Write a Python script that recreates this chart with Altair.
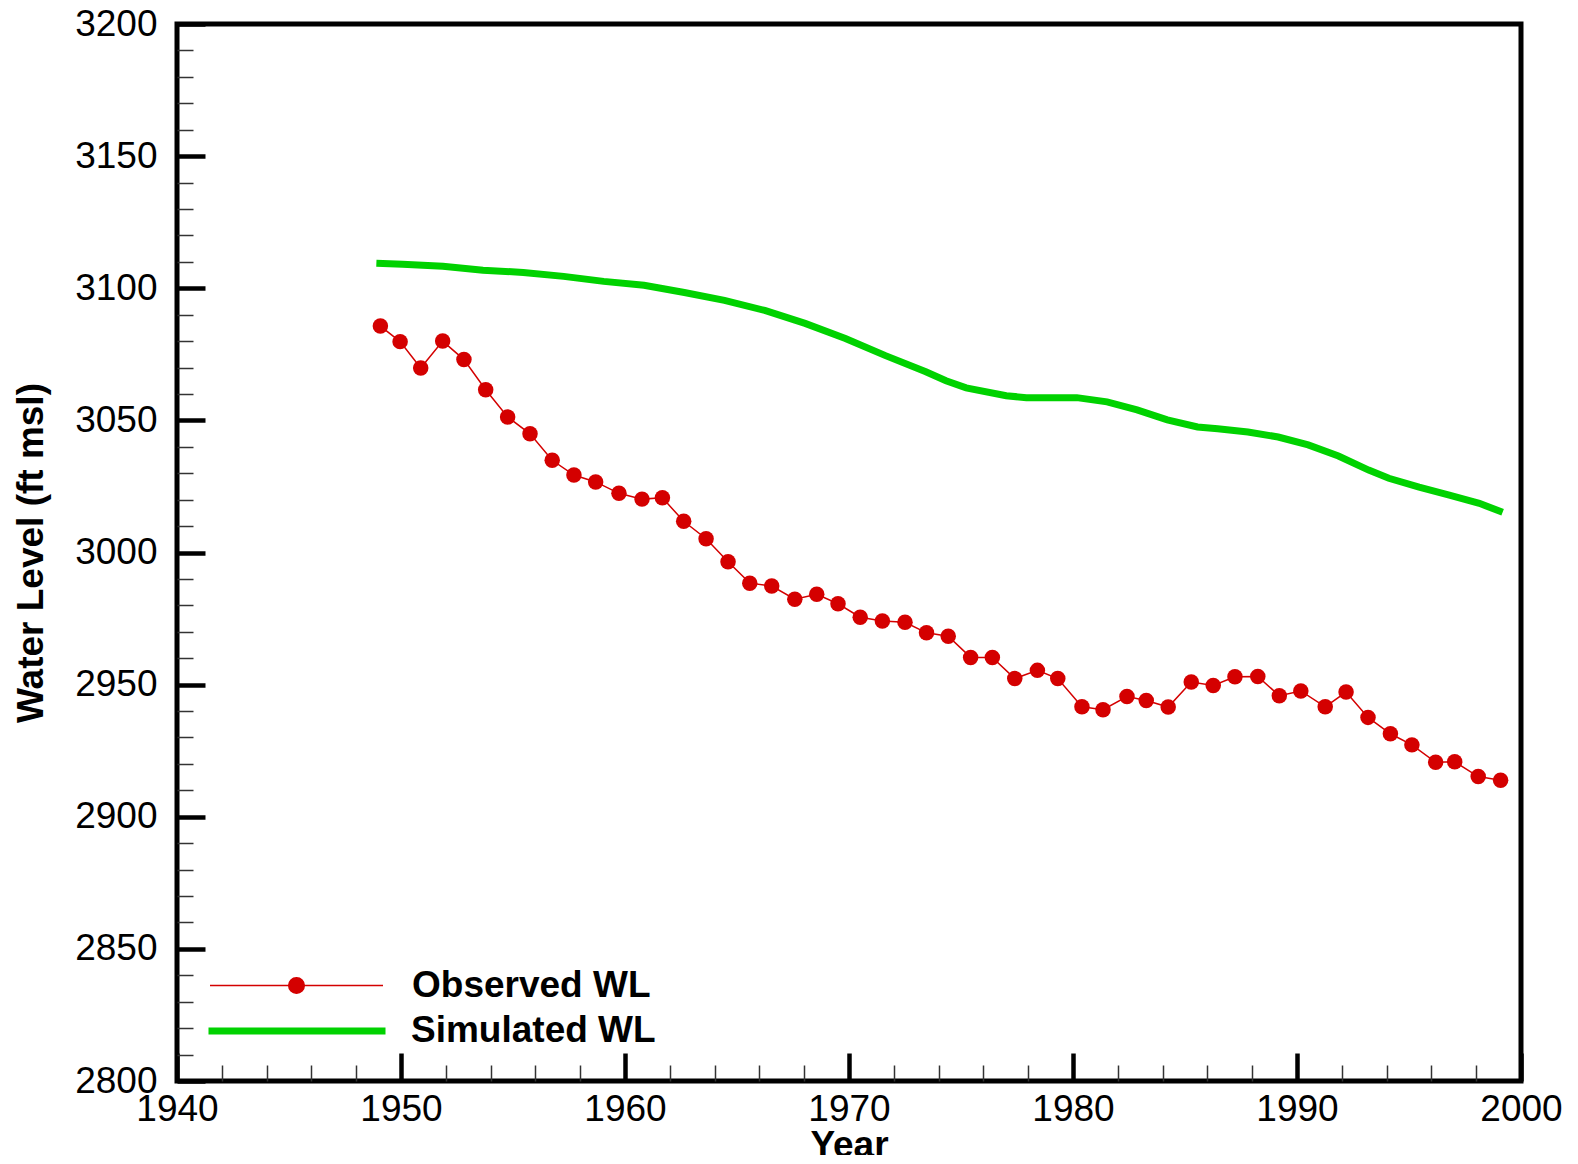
import altair as alt
import pandas as pd

# ---- data ----
obs_year = [1949.08, 1949.96, 1950.88, 1951.86, 1952.81, 1953.78, 1954.76, 1955.76, 1956.75,
            1957.72, 1958.69, 1959.73, 1960.76, 1961.67, 1962.62, 1963.62, 1964.60, 1965.57,
            1966.55, 1967.58, 1968.56, 1969.51, 1970.50, 1971.49, 1972.50, 1973.46, 1974.43,
            1975.43, 1976.40, 1977.40, 1978.41, 1979.32, 1980.40, 1981.34, 1982.41, 1983.27,
            1984.25, 1985.28, 1986.26, 1987.23, 1988.25, 1989.21, 1990.17, 1991.26, 1992.19,
            1993.17, 1994.17, 1995.13, 1996.19, 1997.04, 1998.09, 1999.09]
obs_wl = [3085.7, 3079.8, 3069.8, 3080.0, 3073.0, 3061.6, 3051.3, 3044.9, 3034.9,
          3029.3, 3026.7, 3022.4, 3020.2, 3020.7, 3011.8, 3005.2, 2996.5, 2988.4,
          2987.3, 2982.3, 2984.2, 2980.6, 2975.5, 2974.1, 2973.6, 2969.6, 2968.3,
          2960.3, 2960.3, 2952.3, 2955.4, 2952.3, 2941.6, 2940.5, 2945.5, 2944.0,
          2941.5, 2951.0, 2949.7, 2953.0, 2953.1, 2945.8, 2947.6, 2941.6, 2947.2,
          2937.6, 2931.4, 2927.2, 2920.6, 2920.8, 2915.2, 2913.8]

sim_year = [1948.90, 1950.07, 1951.87, 1953.66, 1955.46, 1957.26, 1959.05, 1960.85, 1962.65,
            1964.44, 1966.24, 1968.04, 1969.84, 1971.63, 1973.43, 1974.33, 1975.23, 1977.02,
            1977.92, 1978.82, 1980.17, 1981.52, 1982.86, 1984.21, 1985.56, 1986.46, 1987.81,
            1989.16, 1990.50, 1991.85, 1993.20, 1994.10, 1995.45, 1996.80, 1998.14, 1999.18]
sim_wl = [3109.5, 3109.1, 3108.3, 3106.8, 3106.0, 3104.5, 3102.6, 3101.1, 3098.4,
          3095.4, 3091.6, 3086.7, 3081.0, 3074.5, 3068.4, 3065.0, 3062.3, 3059.3,
          3058.6, 3058.6, 3058.6, 3057.0, 3054.0, 3050.2, 3047.5, 3046.8, 3045.6,
          3043.7, 3040.7, 3036.5, 3031.2, 3028.1, 3024.7, 3021.7, 3018.6, 3015.2]

series_names = ["Observed WL", "Simulated WL"]
x_major = [1940, 1950, 1960, 1970, 1980, 1990, 2000]
x_minor = [y for y in range(1942, 2000, 2) if y % 10 != 0]
y_major = list(range(2800, 3201, 50))
y_minor = [v for v in range(2810, 3200, 10) if v % 50 != 0]

FONT = "Liberation Sans"
RED = "#d40000"
GREEN = "#00d200"
W, H = 1344, 1057

obs = pd.DataFrame({"year": obs_year, "wl": obs_wl, "series": series_names[0]})
sim = pd.DataFrame({"year": sim_year, "wl": sim_wl, "series": series_names[1]})

xscale = alt.Scale(domain=[1940, 2000], nice=False, zero=False)
yscale = alt.Scale(domain=[2800, 3200], nice=False, zero=False)

x_major_axis = alt.Axis(orient="bottom", values=x_major, format="d", offset=-28, tickSize=28,
                        tickWidth=4.5, tickColor="black", domain=False, grid=False,
                        labelFont=FONT, labelFontSize=37, labelColor="black", labelPadding=10,
                        labelFlush=False, labelOverlap=False,
                        title="Year", titleFont=FONT, titleFontSize=37, titleFontWeight="bold",
                        titleColor="black", titlePadding=0)
y_major_axis = alt.Axis(orient="left", values=y_major, format="d", offset=-28, tickSize=28,
                        tickWidth=4.5, tickColor="black", domain=False, grid=False,
                        labelFont=FONT, labelFontSize=37, labelColor="black", labelPadding=20,
                        labelFlush=False, labelOverlap=False,
                        title="Water Level (ft msl)", titleFont=FONT, titleFontSize=37,
                        titleFontWeight="bold", titleColor="black", titlePadding=24)
x_minor_axis = alt.Axis(orient="bottom", values=x_minor, offset=-16, tickSize=16, tickWidth=1.5,
                        tickColor="#333333", domain=False, grid=False, labels=False, title=None)
y_minor_axis = alt.Axis(orient="left", values=y_minor, offset=-16, tickSize=16, tickWidth=1.5,
                        tickColor="#333333", domain=False, grid=False, labels=False, title=None)

OBS_PATH = "M-1,0H1M-0.09,0A0.09,0.09,0,1,0,0.09,0A0.09,0.09,0,1,0,-0.09,0Z"

leg_common = dict(orient="none", title=None, padding=0, labelFont=FONT, labelFontSize=37,
                  labelFontWeight="bold", labelColor="black", labelLimit=600)

sim_layer = alt.Chart(sim).mark_line(strokeWidth=7).encode(
    x=alt.X("year:Q", scale=xscale, axis=x_major_axis),
    y=alt.Y("wl:Q", scale=yscale, axis=y_major_axis),
    color=alt.Color("series:N", scale=alt.Scale(domain=[series_names[1]], range=[GREEN]),
                    legend=alt.Legend(legendX=28, legendY=915, symbolType="stroke",
                                      symbolSize=177 * 177, symbolStrokeWidth=7,
                                      labelOffset=22, **leg_common)),
)

obs_layer = alt.Chart(obs).mark_line(
    strokeWidth=1.5,
    point=alt.OverlayMarkDef(filled=True, size=240, opacity=1),
).encode(
    x=alt.X("year:Q", scale=xscale, axis=x_minor_axis),
    y=alt.Y("wl:Q", scale=yscale, axis=y_minor_axis),
    color=alt.Color("series:N", scale=alt.Scale(domain=[series_names[0]], range=[RED]),
                    legend=alt.Legend(legendX=32, legendY=874, symbolType=OBS_PATH,
                                      symbolSize=173 * 173, symbolStrokeWidth=1.5,
                                      symbolFillColor=RED, symbolStrokeColor=RED,
                                      labelOffset=28, **leg_common)),
)

chart = alt.layer(sim_layer, obs_layer).resolve_scale(
    color="independent"
).resolve_axis(
    x="independent", y="independent"
).properties(
    width=W, height=H,
    padding={"left": 169, "top": 16, "right": 48, "bottom": 74},
    autosize=alt.AutoSizeParams(type="none"),
    background="white",
).configure_view(
    stroke="black", strokeWidth=5
)

chart.save("out.html", embed_options={"renderer": "svg", "actions": False})
